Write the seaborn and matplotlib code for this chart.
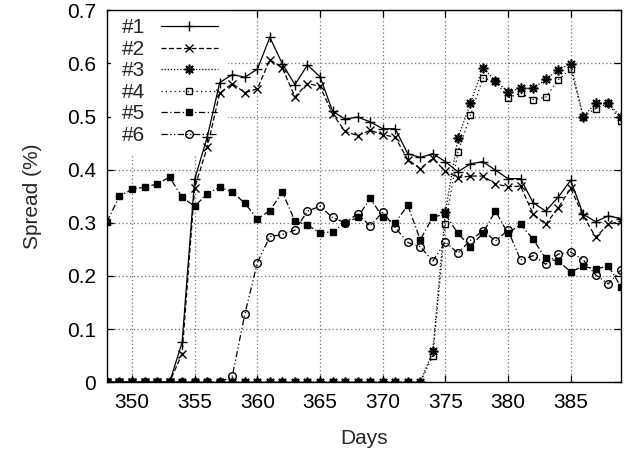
import numpy as np
import pandas as pd
import matplotlib
matplotlib.use('Agg')
import matplotlib.pyplot as plt
import seaborn as sns

days = list(range(348, 390))

s1 = [0, 0, 0, 0, 0, 0, 0.075, 0.382, 0.461, 0.564, 0.579, 0.574, 0.589, 0.649,
      0.599, 0.560, 0.597, 0.575, 0.510, 0.495, 0.499, 0.490, 0.477, 0.477, 0.430,
      0.423, 0.430, 0.415, 0.396, 0.411, 0.415, 0.399, 0.383, 0.383, 0.338, 0.322,
      0.348, 0.380, 0.316, 0.302, 0.313, 0.308]
s2 = [0, 0, 0, 0, 0, 0, 0.054, 0.366, 0.442, 0.544, 0.562, 0.545, 0.552, 0.607,
      0.591, 0.537, 0.562, 0.557, 0.505, 0.472, 0.464, 0.474, 0.466, 0.461, 0.419,
      0.402, 0.421, 0.397, 0.385, 0.388, 0.388, 0.373, 0.368, 0.369, 0.317, 0.297,
      0.328, 0.365, 0.313, 0.273, 0.297, 0.303]
s3 = [0] * 26 + [0.058, 0.320, 0.459, 0.525, 0.592, 0.567, 0.547, 0.553, 0.553,
                 0.570, 0.588, 0.599, 0.500, 0.525, 0.525, 0.499]
s4 = [0] * 26 + [0.050, 0.297, 0.433, 0.502, 0.572, 0.567, 0.535, 0.544, 0.532,
                 0.536, 0.569, 0.589, 0.500, 0.515, 0.525, 0.491]
s5 = [0.302, 0.350, 0.363, 0.367, 0.373, 0.386, 0.348, 0.331, 0.355, 0.367, 0.358,
      0.337, 0.307, 0.323, 0.358, 0.303, 0.296, 0.281, 0.283, 0.300, 0.310, 0.346,
      0.311, 0.300, 0.333, 0.268, 0.311, 0.316, 0.280, 0.255, 0.281, 0.322, 0.280,
      0.297, 0.269, 0.233, 0.228, 0.208, 0.218, 0.213, 0.219, 0.180]
s6 = [0] * 10 + [0.011, 0.128, 0.225, 0.274, 0.278, 0.286, 0.322, 0.331, 0.310,
                 0.300, 0.317, 0.294, 0.320, 0.291, 0.263, 0.255, 0.228, 0.264,
                 0.243, 0.267, 0.285, 0.266, 0.286, 0.230, 0.238, 0.222, 0.241,
                 0.245, 0.230, 0.202, 0.185, 0.211]

names = ['#1', '#2', '#3', '#4', '#5', '#6']
series = [s1, s2, s3, s4, s5, s6]
xticks = [350, 355, 360, 365, 370, 375, 380, 385]
yticks = [0, 0.1, 0.2, 0.3, 0.4, 0.5, 0.6, 0.7]
ylabels = ['0', '0.1', '0.2', '0.3', '0.4', '0.5', '0.6', '0.7']

df = pd.concat([pd.DataFrame({'day': days, 'spread': s, 'series': n})
                for n, s in zip(names, series)], ignore_index=True)

sns.set_style('whitegrid', {'grid.color': '#808080', 'grid.linestyle': ':',
                            'axes.edgecolor': 'k'})
plt.rcParams['font.family'] = ['Liberation Sans', 'DejaVu Sans']
fs = 15

styles = {
    '#1': dict(linestyle='-', marker='+', ms=7, mfc='k', mew=1.0),
    '#2': dict(linestyle=(0, (4, 2)), marker='x', ms=5.5, mfc='k', mew=1.0),
    '#3': dict(linestyle=(0, (1, 1.5)), marker=(8, 2, 0), ms=7, mfc='k', mew=1.2),
    '#4': dict(linestyle=(0, (1, 2.5)), marker='s', ms=5, mfc='none', mew=1.0),
    '#5': dict(linestyle=(0, (5, 2, 1, 2)), marker='s', ms=5, mfc='k', mew=1.0),
    '#6': dict(linestyle=(0, (5, 2, 1, 2, 1, 2)), marker='o', ms=5.5, mfc='none', mew=1.0),
}

fig = plt.figure(figsize=(6.29, 4.65), dpi=100)
ax = fig.add_axes([0.170, 0.178, 0.817, 0.800])

for n in names:
    sub = df[df['series'] == n]
    sns.lineplot(data=sub, x='day', y='spread', ax=ax, color='k', lw=0.9,
                 mec='k', label=n, **styles[n])

ax.set_xlim(348, 389)
ax.set_ylim(0, 0.7)
ax.set_xticks(xticks)
ax.set_yticks(yticks)
ax.set_yticklabels(ylabels)
ax.tick_params(direction='in', length=5, width=0.9, top=True, right=True,
               bottom=True, left=True, labelsize=fs, pad=8, colors='k')
ax.grid(True, which='major', axis='both', linestyle=(0, (1, 2)),
        color='#707070', linewidth=0.9)
ax.set_axisbelow(True)
for sp in ax.spines.values():
    sp.set_color('k')
    sp.set_linewidth(1.0)

ax.set_xlabel('Days', fontsize=fs, labelpad=12)
ax.set_ylabel('Spread (%)', fontsize=fs, labelpad=18)

# gnuplot-style key: opaque box that hides the grid but sits under the data
leg = ax.legend(loc='upper left', bbox_to_anchor=(0.008, 1.006), markerfirst=False,
                frameon=True, facecolor='white', edgecolor='none', framealpha=1,
                fancybox=False, fontsize=fs, handlelength=2.7, handletextpad=0.8,
                labelspacing=0.12, borderaxespad=0.0, borderpad=0.5, numpoints=1)
leg.set_zorder(1)

fig.savefig('out.png', dpi=100)
